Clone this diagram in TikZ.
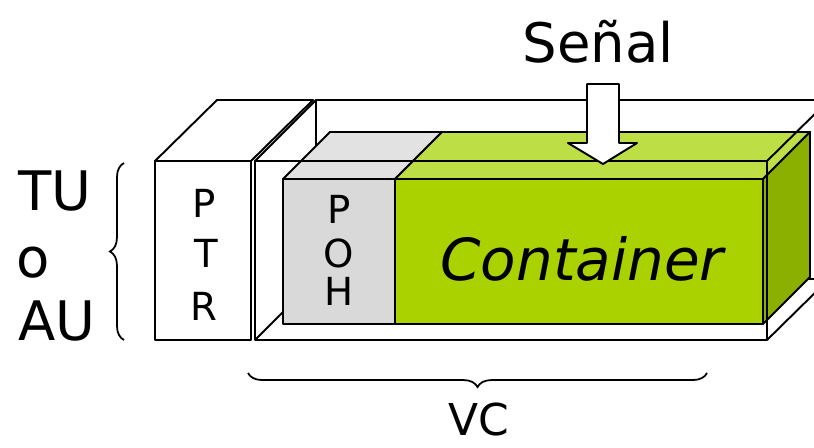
\documentclass[tikz,border=0pt]{standalone}
\usepackage{fontspec}
\setmainfont{DejaVu Sans}
\usetikzlibrary{decorations.pathreplacing}
\definecolor{pohfront}{RGB}{217,217,217}
\definecolor{pohtop}{RGB}{226,226,226}
\definecolor{cfront}{RGB}{170,210,0}
\definecolor{ctop}{RGB}{190,222,70}
\definecolor{cside}{RGB}{140,176,0}
\begin{document}
\begin{tikzpicture}[x=0.02cm,y=-0.02cm,
  edge/.style={line width=1.1pt,line join=round},
  lbl/.style={inner sep=0pt,anchor=base},
  bigtxt/.style={lbl,font=\fontsize{31}{31}\selectfont},
  smalltxt/.style={lbl,font=\fontsize{22}{22}\selectfont},
  bracestyle/.style={line width=1pt,decorate,decoration={brace,amplitude=8pt}}]
\useasboundingbox (0,0) rectangle (814,447);
% VC box: back edges
\draw[edge] (255,161) -- (316,100) -- (829,100);
\draw[edge] (316,100) -- (316,279) -- (829,279);
\draw[edge] (255,340) -- (316,279);
% PTR box
\draw[edge,fill=white] (155,161) -- (217,100) -- (313,100) -- (251,161) -- cycle;
\draw[edge,fill=white] (155,161) rectangle (251,340);
% Container box
\draw[edge,fill=pohtop] (283,179) -- (330,132) -- (442,132) -- (395,179) -- cycle;
\draw[edge,fill=ctop] (395,179) -- (442,132) -- (810,132) -- (763,179) -- cycle;
\draw[edge,fill=cside] (763,179) -- (810,132) -- (810,277) -- (763,324) -- cycle;
\draw[edge,fill=pohfront] (283,179) rectangle (395,324);
\draw[edge,fill=cfront] (395,179) rectangle (763,324);
% VC box: front edges
\draw[edge] (255,161) rectangle (767,340);
\draw[edge] (767,161) -- (829,100);
\draw[edge] (767,340) -- (829,279);
% signal arrow
\draw[edge,fill=white] (587,84) -- (619,84) -- (619,143) -- (637,143) -- (603,164) -- (568,143) -- (587,143) -- cycle;
% texts
\node[bigtxt] (senal) at (598,62) {Señal};
\node[lbl,font=\fontsize{33}{33}\itshape\selectfont] (cont) at (582,280) {Container};
\node[smalltxt] (p1) at (204,217) {P};
\node[smalltxt] (t1) at (206,267) {T};
\node[smalltxt] (r1) at (204,320) {R};
\node[smalltxt] (p2) at (339,223) {P};
\node[smalltxt] (o2) at (339,267) {O};
\node[smalltxt] (h2) at (339,305) {H};
\node[bigtxt,anchor=base west] (tu) at (18,210) {TU};
\node[bigtxt,anchor=base west] (o) at (16,277) {o};
\node[bigtxt,anchor=base west] (au) at (18,340) {AU};
\node[lbl,font=\fontsize{25}{25}\selectfont] (vc) at (479,435) {VC};
% braces
\coordinate (lb1) at (124,340);
\coordinate (lb2) at (124,163);
\draw[bracestyle] (lb1) -- (lb2);
\coordinate (bb1) at (707,373);
\coordinate (bb2) at (248,373);
\draw[bracestyle] (bb1) -- (bb2);
\end{tikzpicture}
\end{document}
